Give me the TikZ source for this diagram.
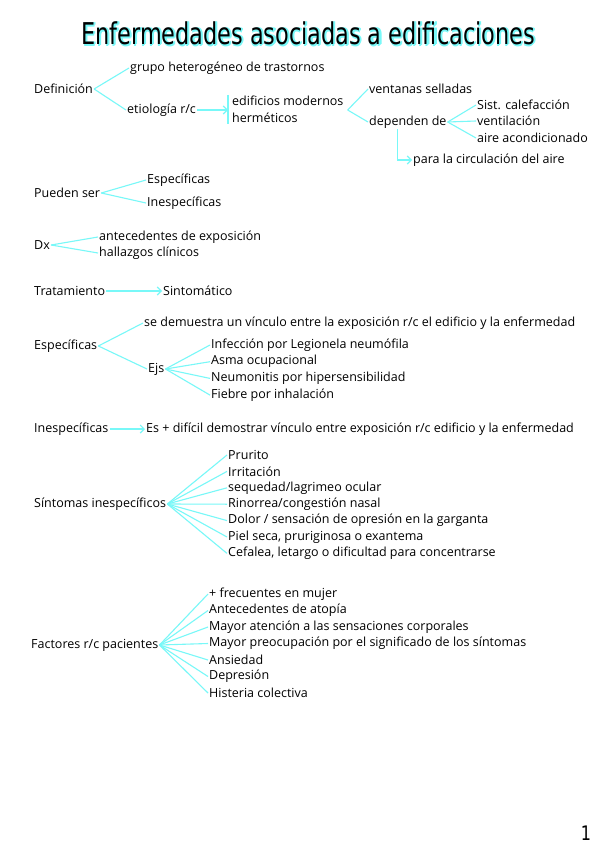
\documentclass[tikz,border=0pt]{standalone}
\usepackage{fontspec}
\usetikzlibrary{arrows.meta}
\setmainfont{Open Sans}
\newfontfamily\titlefont{DejaVu Sans}
\definecolor{lineCyan}{RGB}{120,248,248}

\begin{document}
\begin{tikzpicture}[x=1pt,y=-1pt,
    txt/.style={anchor=west, inner sep=1pt, font=\fontsize{12.5}{14}\selectfont},
    branch/.style={lineCyan, line width=1.1pt},
    arrowline/.style={branch, -{Straight Barb[length=4pt,width=8pt]}}]
  \useasboundingbox (0,0) rectangle (599,848);
  \fill[white] (0,0) rectangle (599,848);

  % Title with cyan shadow
  \foreach \dx/\dy [count=\i] in {1.6/1.6, 2.2/0.8, 0.8/2.2}
    \node[lineCyan] (shadow\i) at (308+\dx,33+\dy)
      {\titlefont\fontsize{30}{34}\selectfont\scalebox{0.745}[1]{Enfermedades asociadas a edificaciones}};
  \node (title) at (308,33)
    {\titlefont\fontsize{30}{34}\selectfont\scalebox{0.745}[1]{Enfermedades asociadas a edificaciones}};

  % Definicion
  \node[txt] (def) at (33,89) {Definición};
  \node[txt] (grupo) at (129,68) {grupo heterogéneo de trastornos};
  \node[txt] (etio) at (126,110) {etiología r/c};
  \node[txt] (edif) at (231,101) {edificios modernos};
  \node[txt] (herm) at (231,118) {herméticos};
  \node[txt] (vent) at (368,89) {ventanas selladas};
  \node[txt] (dep) at (368,122) {dependen de};
  \node[txt] (calef) at (476,105) {Sist. calefacción};
  \node[txt] (ventil) at (476,121) {ventilación};
  \node[txt] (aire) at (476,138) {aire acondicionado};
  \node[txt] (circ) at (412,160) {para la circulación del aire};
  \coordinate (bar) at (228,110);
  \coordinate (block) at ([xshift=3pt]edif.east |- bar);

  \draw[branch] (def.east) -- (grupo.west);
  \draw[branch] (def.east) -- (etio.west);
  \draw[arrowline] (etio.east) -- (bar);
  \draw[branch] ([yshift=6pt]bar |- edif.west) -- ([yshift=-6pt]bar |- herm.west);
  \draw[branch] (block) -- (vent.west);
  \draw[branch] (block) -- (dep.west);
  \foreach \n in {calef, ventil, aire}
    \draw[branch] (dep.east) -- (\n.west);
  \draw[arrowline] ([xshift=-10pt]dep.south) |- (circ.west);

  % Pueden ser
  \node[txt] (pueden) at (33,193) {Pueden ser};
  \node[txt] (esp1) at (146,180) {Específicas};
  \node[txt] (inesp1) at (146,203) {Inespecíficas};
  \draw[branch] (pueden.east) -- (esp1.west);
  \draw[branch] (pueden.east) -- (inesp1.west);

  % Dx
  \node[txt] (dx) at (33,245) {Dx};
  \node[txt] (antec) at (98,237) {antecedentes de exposición};
  \node[txt] (hallaz) at (98,253) {hallazgos clínicos};
  \draw[branch] (dx.east) -- (antec.west);
  \draw[branch] (dx.east) -- (hallaz.west);

  % Tratamiento
  \node[txt] (trat) at (33,291) {Tratamiento};
  \node[txt] (sint) at (162,291) {Sintomático};
  \draw[arrowline] (trat.east) -- (sint.west);

  % Especificas
  \node[txt] (esp) at (33,346) {Específicas};
  \node[txt] (demu) at (143,323) {se demuestra un vínculo entre la exposición r/c el edificio y la enfermedad};
  \node[txt] (ejs) at (147,369) {Ejs};
  \draw[branch] (esp.east) -- (demu.west);
  \draw[branch] (esp.east) -- (ejs.west);
  \foreach \t [count=\i] in {Infección por Legionela neumófila, Asma ocupacional,
      Neumonitis por hipersensibilidad, Fiebre por inhalación} {
    \node[txt] (ej\i) at (210,345+16.7*\i-16.7) {\t};
    \draw[branch] (ejs.east) -- (ej\i.west);
  }

  % Inespecificas
  \node[txt] (inesp) at (33,429) {Inespecíficas};
  \node[txt] (dific) at (145,429) {Es + difícil demostrar vínculo entre exposición r/c edificio y la enfermedad};
  \draw[arrowline] (inesp.east) -- (dific.west);

  % Sintomas inespecificos
  \node[txt] (sintin) at (33,504) {Síntomas inespecíficos};
  \foreach \t [count=\i] in {Prurito, Irritación, sequedad/lagrimeo ocular,
      Rinorrea/congestión nasal, Dolor / sensación de opresión en la garganta,
      {Piel seca, pruriginosa o exantema}, {Cefalea, letargo o dificultad para concentrarse}} {
    \node[txt] (sin\i) at (227,455+16.4*\i-16.4) {\t};
    \draw[branch] (sintin.east) -- (sin\i.west);
  }

  % Factores r/c pacientes
  \node[txt] (fact) at (30,645) {Factores r/c pacientes};
  \foreach \t [count=\i] in {+ frecuentes en mujer, Antecedentes de atopía,
      Mayor atención a las sensaciones corporales,
      Mayor preocupación por el significado de los síntomas,
      Ansiedad, Depresión, Histeria colectiva} {
    \node[txt] (fac\i) at (208,594+16.5*\i-16.5) {\t};
    \draw[branch] (fact.east) -- (fac\i.west);
  }

  % Page number
  \node (page) at (586,833) {\titlefont\fontsize{20}{22}\selectfont\scalebox{0.8}[1]{1}};
\end{tikzpicture}
\end{document}
